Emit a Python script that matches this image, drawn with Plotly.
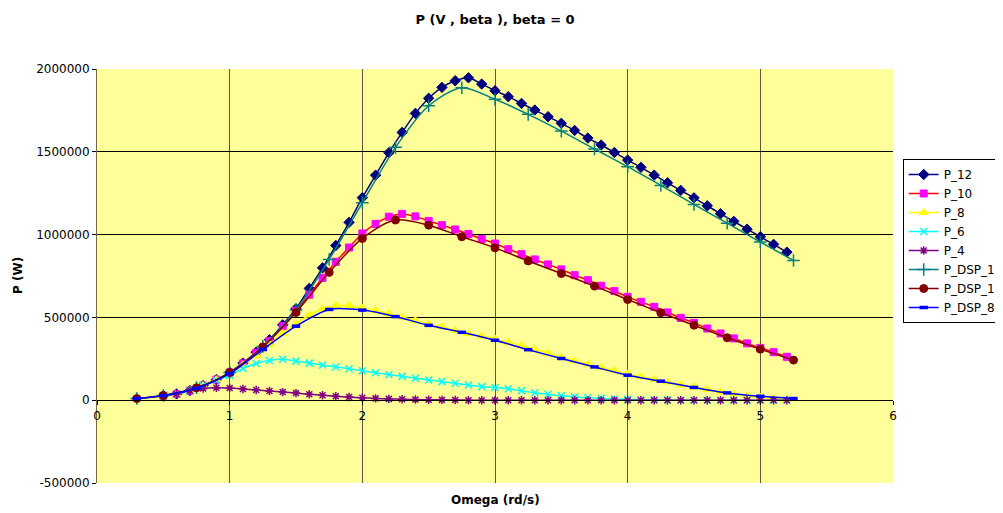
import plotly.graph_objects as go

# omega values (rd/s)
omega_p = [0.5, 0.6, 0.7, 0.8, 0.9, 1.0, 1.1, 1.2, 1.3, 1.4, 1.5, 1.6, 1.7, 1.8, 1.9, 2.0,
           2.1, 2.2, 2.3, 2.4, 2.5, 2.6, 2.7, 2.8, 2.9, 3.0, 3.1, 3.2, 3.3, 3.4, 3.5, 3.6,
           3.7, 3.8, 3.9, 4.0, 4.1, 4.2, 4.3, 4.4, 4.5, 4.6, 4.7, 4.8, 4.9, 5.0, 5.1, 5.2]
omega_dsp = [0.3, 0.5, 0.75, 1.0, 1.25, 1.5, 1.75, 2.0, 2.25, 2.5, 2.75, 3.0, 3.25, 3.5,
             3.75, 4.0, 4.25, 4.5, 4.75, 5.0, 5.25]

# power (W)
p_12 = [27e3, 38e3, 58e3, 88e3, 124e3, 168e3, 224e3, 290e3, 365e3, 455e3, 552e3, 675e3,
        799e3, 934e3, 1074e3, 1223e3, 1359e3, 1494e3, 1617e3, 1732e3, 1823e3, 1889e3,
        1929e3, 1947e3, 1909e3, 1869e3, 1833e3, 1792e3, 1752e3, 1712e3, 1672e3, 1629e3,
        1583e3, 1541e3, 1496e3, 1450e3, 1406e3, 1359e3, 1313e3, 1267e3, 1222e3, 1174e3,
        1126e3, 1080e3, 1033e3, 987e3, 941e3, 894e3]
p_10 = [27e3, 38e3, 58e3, 88e3, 124e3, 167e3, 222e3, 286e3, 358e3, 447e3, 540e3, 637e3,
        739e3, 836e3, 922e3, 1007e3, 1065e3, 1108e3, 1125e3, 1110e3, 1083e3, 1057e3,
        1031e3, 1004e3, 973e3, 946e3, 912e3, 882e3, 850e3, 820e3, 790e3, 755e3,
        725e3, 691e3, 659e3, 624e3, 594e3, 564e3, 530e3, 497e3, 467e3, 433e3,
        403e3, 373e3, 343e3, 316e3, 290e3, 262e3]
p_8 = [27e3, 38e3, 58e3, 88e3, 124e3, 166e3, 213e3, 272e3, 338e3, 403e3, 463e3, 514e3,
       552e3, 572e3, 572e3, 557e3, 542e3, 522e3, 502e3, 481e3, 461e3, 443e3,
       421e3, 403e3, 387e3, 370e3, 350e3, 330e3, 307e3, 284e3, 259e3, 238e3,
       218e3, 198e3, 180e3, 158e3, 141e3, 126e3, 110e3, 93e3, 80e3, 65e3,
       50e3, 37e3, 26e3, 18e3, 10e3, 4e3]
p_6 = [27e3, 38e3, 58e3, 88e3, 121e3, 150e3, 191e3, 222e3, 240e3, 247e3, 236e3, 224e3,
       212e3, 201e3, 190e3, 178e3, 166e3, 155e3, 144e3, 133e3, 122e3, 112e3,
       102e3, 92e3, 82e3, 76e3, 69e3, 57e3, 45e3, 36e3, 27e3, 20e3,
       15e3, 11e3, 8e3, 5e3, 3e3, 2e3, 1e3, 0, 0, 0,
       0, 0, 0, 0, 0, 0]
p_4 = [27e3, 38e3, 58e3, 71e3, 75e3, 73e3, 68e3, 62e3, 56e3, 49e3, 43e3, 36e3,
       30e3, 24e3, 19e3, 15e3, 11e3, 8e3, 6e3, 4e3, 3e3, 2e3,
       1e3, 0, 0, 0, 0, 0, 0, 0, 0, 0,
       0, 0, 0, 0, 0, 0, 0, 0, 0, 0,
       0, 0, 0, 0, 0, 0]
p_dsp_12 = [10e3, 28e3, 76e3, 167e3, 325e3, 545e3, 850e3, 1192e3, 1527e3, 1778e3, 1887e3,
            1817e3, 1726e3, 1625e3, 1517e3, 1410e3, 1297e3, 1182e3, 1069e3, 955e3, 844e3]
p_dsp_10 = [10e3, 28e3, 75e3, 167e3, 322e3, 530e3, 772e3, 977e3, 1088e3, 1057e3, 987e3,
            920e3, 841e3, 765e3, 689e3, 608e3, 528e3, 453e3, 377e3, 308e3, 242e3]
p_dsp_8 = [10e3, 28e3, 72e3, 160e3, 306e3, 447e3, 548e3, 544e3, 505e3, 452e3, 410e3,
           362e3, 305e3, 252e3, 201e3, 151e3, 115e3, 77e3, 44e3, 24e3, 10e3]

y_ticks = [-500000, 0, 500000, 1000000, 1500000, 2000000]
y_tick_text = ["-500000", "0", "500000", "1000000", "1500000", "2000000"]
x_ticks = [0, 1, 2, 3, 4, 5, 6]

series = [
    ("P_12", omega_p, p_12, "#000080", "#000080", "diamond", 8, 1),
    ("P_10", omega_p, p_10, "#FF0000", "#FF00FF", "square", 7, 1),
    ("P_8", omega_p, p_8, "#FFFF00", "#FFFF00", "triangle-up", 8, 1),
    ("P_6", omega_p, p_6, "#00FFFF", "#00FFFF", "x-thin-open", 7, 1.5),
    ("P_4", omega_p, p_4, "#800080", "#800080", "asterisk-open", 7, 1.5),
    ("P_DSP_12", omega_dsp, p_dsp_12, "#008080", "#008080", "cross-thin-open", 9, 1.5),
    ("P_DSP_10", omega_dsp, p_dsp_10, "#800000", "#800000", "circle", 8, 1),
    ("P_DSP_8", omega_dsp, p_dsp_8, "#0000FF", "#0000FF", "line-ew-open", 6, 3.5),
]

fig = go.Figure()
for name, xs, ys, lc, mc, sym, sz, mw in series:
    fig.add_trace(go.Scatter(
        x=xs, y=ys, name=name, mode="lines+markers",
        line=dict(color=lc, width=1.5, shape="spline", smoothing=0.8),
        marker=dict(symbol=sym, size=sz, color=mc, line=dict(color=mc, width=mw)),
    ))

font_main = "DejaVu Sans, Arial, sans-serif"

# page body adds an 8px offset, so the figure is sized to end at the window edge
fig.update_layout(
    width=995, height=505,
    margin=dict(l=89, r=110, t=61, b=30, autoexpand=False),
    paper_bgcolor="white",
    plot_bgcolor="#FFFF99",
    font=dict(family=font_main, size=12, color="black"),
    title=dict(text="<b>P (V , beta ), beta = 0</b>", x=0.5, xref="paper",
               y=1 - 11 / 505, yanchor="middle", font=dict(size=13)),
    showlegend=True,
    legend=dict(x=1.0122, y=0.7826, xanchor="left", yanchor="top",
                bgcolor="white", bordercolor="black", borderwidth=1,
                font=dict(size=12), tracegroupgap=0),
    xaxis=dict(range=[0, 6], tickvals=x_ticks, anchor="free", position=0.2,
               showline=True, linecolor="black", linewidth=1,
               ticks="outside", ticklen=4, tickcolor="black",
               showgrid=True, gridcolor="#5a5a3c", gridwidth=1, zeroline=False,
               fixedrange=True),
    yaxis=dict(range=[-500000, 2000000], tickvals=y_ticks, ticktext=y_tick_text,
               showline=True, linecolor="#6b6b4a", linewidth=1,
               ticks="outside", ticklen=4, tickcolor="black",
               showgrid=True, gridcolor="black", gridwidth=1,
               zeroline=True, zerolinecolor="black", zerolinewidth=1,
               fixedrange=True),
    annotations=[
        dict(text="<b>Omega (rd/s)</b>", xref="paper", yref="paper", x=0.5,
             y=(475 - 492) / 414, xanchor="center", yanchor="middle",
             showarrow=False, font=dict(size=12)),
        dict(text="<b>P (W)</b>", xref="paper", yref="paper", x=(10 - 89) / 796,
             y=0.5, xanchor="center", yanchor="middle", textangle=-90,
             showarrow=False, font=dict(size=12)),
    ],
)

fig.write_html("out.html")
